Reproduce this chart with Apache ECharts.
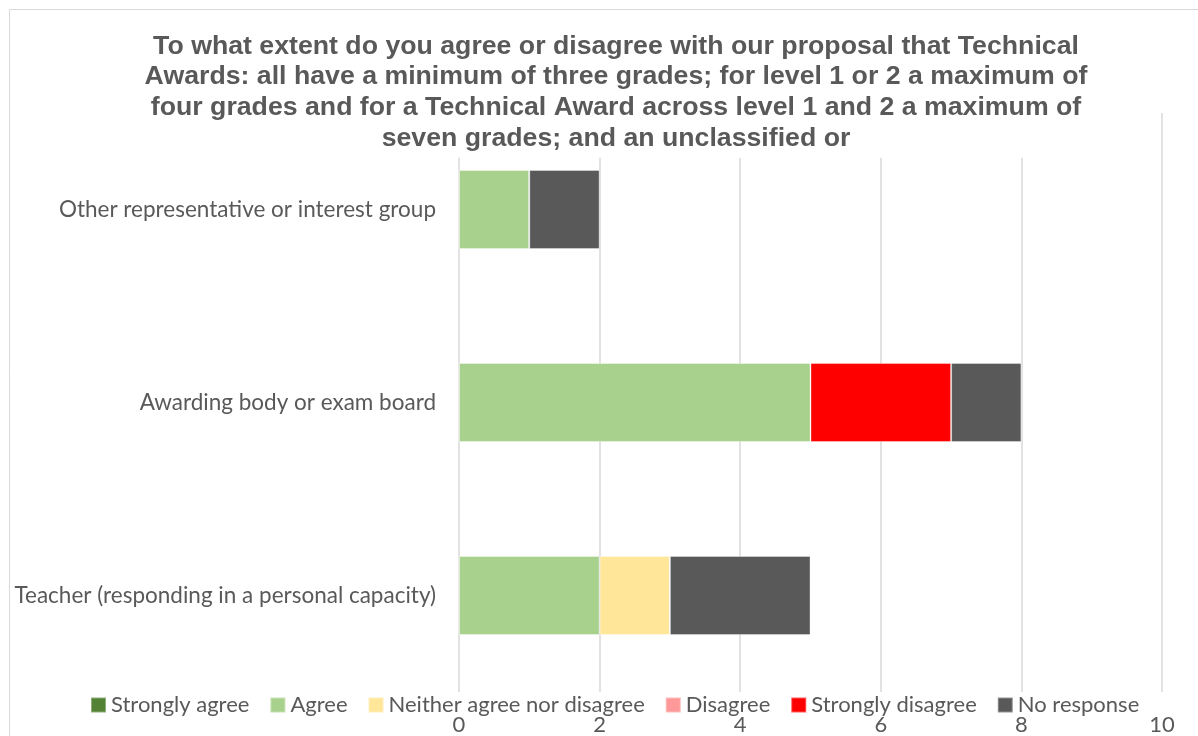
<!DOCTYPE html>
<html>
<head>
<meta charset="utf-8">
<script src="https://cdn.jsdelivr.net/npm/echarts@6/dist/echarts.min.js"></script>
<style>
  html, body { margin: 0; padding: 0; background: #fff; }
  #chart { width: 1198px; height: 736px; }
</style>
</head>
<body>
<div id="chart"></div>
<script>
// Respondent groups (bottom to top on the category axis)
const categories = [
  'Teacher (responding in a personal capacity)',
  'Awarding body or exam board',
  'Other representative or interest group'
];

// Response counts per group, in category order
const stronglyAgree    = [0, 0, 0];
const agree            = [2, 5, 1];
const neither          = [1, 0, 0];
const disagree         = [0, 0, 0];
const stronglyDisagree = [0, 2, 0];
const noResponse       = [2, 1, 1];

const seriesNames = ['Strongly agree', 'Agree', 'Neither agree nor disagree', 'Disagree', 'Strongly disagree', 'No response'];
const seriesData  = [stronglyAgree, agree, neither, disagree, stronglyDisagree, noResponse];
const seriesColors = ['#548235', '#A9D18E', '#FFE699', '#FF9999', '#FF0000', '#595959'];

const xTicks = [0, 2, 4, 6, 8, 10];

const titleText = [
  'To what extent do you agree or disagree with our proposal that Technical',
  'Awards: all have a minimum of three grades; for level 1 or 2 a maximum of',
  'four grades and for a Technical Award across level 1 and 2 a maximum of',
  'seven grades; and an unclassified or'
].join('\n');

const labelFont = 'Lato, "Open Sans", sans-serif';

const chart = echarts.init(document.getElementById('chart'), null, { renderer: 'canvas' });

chart.setOption({
  animation: false,
  backgroundColor: '#fff',
  graphic: [{
    type: 'rect',
    silent: true,
    z: -1,
    shape: { x: 9.5, y: 9.5, width: 1400, height: 1000 },
    style: { fill: 'none', stroke: '#d9d9d9', lineWidth: 1 }
  }],
  title: {
    text: titleText,
    left: 610,
    textAlign: 'center',
    top: 29,
    padding: [2, 6, 4, 6],
    backgroundColor: '#fff',
    z: 10,
    textStyle: {
      fontFamily: '"Liberation Sans", Arial, sans-serif',
      fontWeight: 'bold',
      fontSize: 26.7,
      lineHeight: 30.7,
      color: '#595959'
    }
  },
  legend: {
    data: seriesNames,
    left: 88,
    top: 694,
    itemWidth: 15,
    itemHeight: 15,
    itemGap: 20,
    padding: [0, 2, 0, 2],
    z: 10,
    icon: 'rect',
    textStyle: {
      fontFamily: labelFont,
      fontSize: 22,
      color: '#595959',
      padding: [0, 0, 0, 0]
    }
  },
  grid: {
    left: 459,
    right: 36,
    top: 113,
    bottom: 41,
    containLabel: false
  },
  xAxis: {
    type: 'value',
    min: 0,
    max: 10,
    interval: 2,
    axisLine: { show: false },
    axisTick: { show: false },
    splitLine: { show: true, lineStyle: { color: '#d9d9d9', width: 1.5 } },
    axisLabel: {
      margin: 22,
      fontFamily: labelFont,
      fontSize: 22,
      color: '#595959',
      formatter: v => xTicks.includes(v) ? String(v) : ''
    }
  },
  yAxis: {
    type: 'category',
    data: categories,
    axisLine: { show: false },
    axisTick: { show: false },
    axisLabel: {
      margin: 23,
      fontFamily: labelFont,
      fontSize: 22.5,
      color: '#595959'
    }
  },
  series: seriesNames.map((name, i) => ({
    name,
    type: 'bar',
    stack: 'total',
    barWidth: 79,
    data: seriesData[i],
    itemStyle: {
      color: seriesColors[i],
      borderColor: 'rgba(255,255,255,0.35)',
      borderWidth: 1
    }
  }))
});
</script>
</body>
</html>
